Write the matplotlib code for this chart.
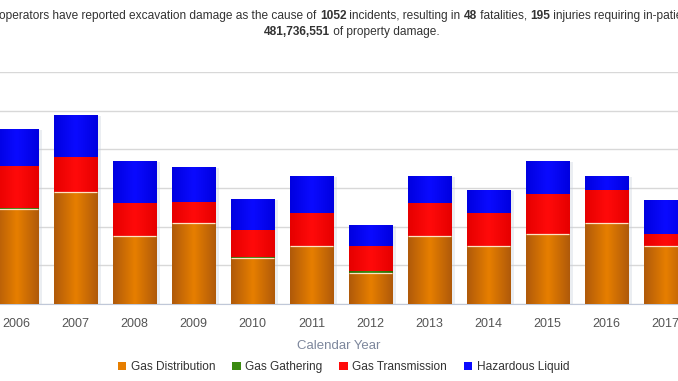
import numpy as np
import matplotlib.pyplot as plt
from matplotlib.colors import LinearSegmentedColormap

years = ['2006', '2007', '2008', '2009', '2010', '2011', '2012', '2013', '2014', '2015', '2016', '2017']
gas_distribution = [49, 58, 35, 42, 24, 30, 16, 35, 30, 36, 42, 30]
gas_gathering = [0.5, 0, 0, 0, 0.5, 0, 1, 0, 0, 0, 0, 0]
gas_transmission = [22, 18, 17, 11, 14, 17, 13, 17, 17, 21, 17, 6]
hazardous_liquid = [19, 22, 22, 18, 16, 19, 11, 14, 12, 17, 7, 18]

names = ['Gas Distribution', 'Gas Gathering', 'Gas Transmission', 'Hazardous Liquid']
# (edge colour, centre colour) for the horizontal gradient
grads = [('#b05a0a', '#e67e00'), ('#2f6b00', '#3a8a10'), ('#e60000', '#ff0a0a'), ('#0000e0', '#0a0aff')]

plt.rcParams['font.family'] = ['Liberation Sans', 'DejaVu Sans']

fig = plt.figure(figsize=(6.78, 3.81), dpi=100)
ax = fig.add_axes([0, 1 - 304 / 381, 1, (304 - 72) / 381])

x = np.arange(len(years))
w = 0.73
bottom = np.zeros(len(years))
series = [gas_distribution, gas_gathering, gas_transmission, hazardous_liquid]
grad = np.abs(np.linspace(0, 1, 64) - 0.5) * 2
grad = grad.reshape(1, -1)

for vals, name, (c_edge, c_mid) in zip(series, names, grads):
    vals = np.array(vals, dtype=float)
    cmap = LinearSegmentedColormap.from_list(name, [c_mid, c_edge])
    bars = ax.bar(x, vals, w, bottom=bottom, color=c_mid, edgecolor='none', label=name, zorder=2)
    for b in bars:
        if b.get_height() <= 0:
            continue
        bx, by = b.get_x(), b.get_y()
        im = ax.imshow(grad, cmap=cmap, aspect='auto', extent=[bx, bx + b.get_width(), by, by + b.get_height()],
                       zorder=3, interpolation='bicubic')
        im.set_clip_path(b)
    bottom += vals

# soft shadow on the right of each stack
for xi, h in zip(x, bottom):
    ax.bar(xi + 0.06, h, w, bottom=-0.5, color='#c8cfdc', alpha=0.35, zorder=1, edgecolor='none')

# light seam on top of the distribution part
ax.hlines(np.array(gas_distribution), x - w / 2, x + w / 2, color='#ffe2c4', lw=0.9, zorder=4)

ax.set_xlim(-0.28, 11.21)
ax.set_ylim(0, 120)
ax.set_yticks(np.arange(0, 121, 20))
ax.yaxis.grid(True, color='#d8d8d8', lw=1)
ax.set_axisbelow(True)
ax.tick_params(axis='y', left=False, labelleft=False)
ax.set_xticks(x)
ax.set_xticklabels(years, fontsize=9, color='#555555')
ax.tick_params(axis='x', length=0, pad=10)
for s in ['top', 'left', 'right']:
    ax.spines[s].set_visible(False)
ax.spines['bottom'].set_color('#c0c8d8')
ax.set_xlabel('Calendar Year', fontsize=9.5, color='#7d879c', labelpad=7)

# title with bold numbers, chained piece by piece (the line runs off both edges)
pieces = [('operators have reported excavation damage as the cause of ', 'normal'), ('1052', 'bold'),
          (' incidents, resulting in ', 'normal'), ('48', 'bold'), (' fatalities, ', 'normal'),
          ('195', 'bold'), (' injuries requiring in-patient hospitalization, and $', 'normal')]
tsize = 8.6
t = fig.text(-0.001, 1 - 19 / 381, pieces[0][0], fontsize=tsize, color='#333333', va='baseline', ha='left')
for txt, wt in pieces[1:]:
    t = ax.annotate(txt, xy=(1, 0), xycoords=t, fontsize=tsize, color='#333333', weight=wt,
                    va='bottom', ha='left', annotation_clip=False)
t2 = fig.text(0.487, 1 - 35 / 381, '481,736,551', fontsize=tsize, color='#333333', weight='bold',
              ha='right', va='baseline')
ax.annotate(' of property damage.', xy=(1, 0), xycoords=t2, fontsize=tsize, color='#333333',
            va='bottom', ha='left', annotation_clip=False)

leg = fig.legend(loc='center', bbox_to_anchor=(0.507, 0.037), ncol=4, frameon=False, fontsize=8.6,
                 handlelength=0.7, handleheight=0.7, handletextpad=0.4, columnspacing=1.4)
for txt in leg.get_texts():
    txt.set_color('#333333')

fig.savefig('out.png', dpi=100)
